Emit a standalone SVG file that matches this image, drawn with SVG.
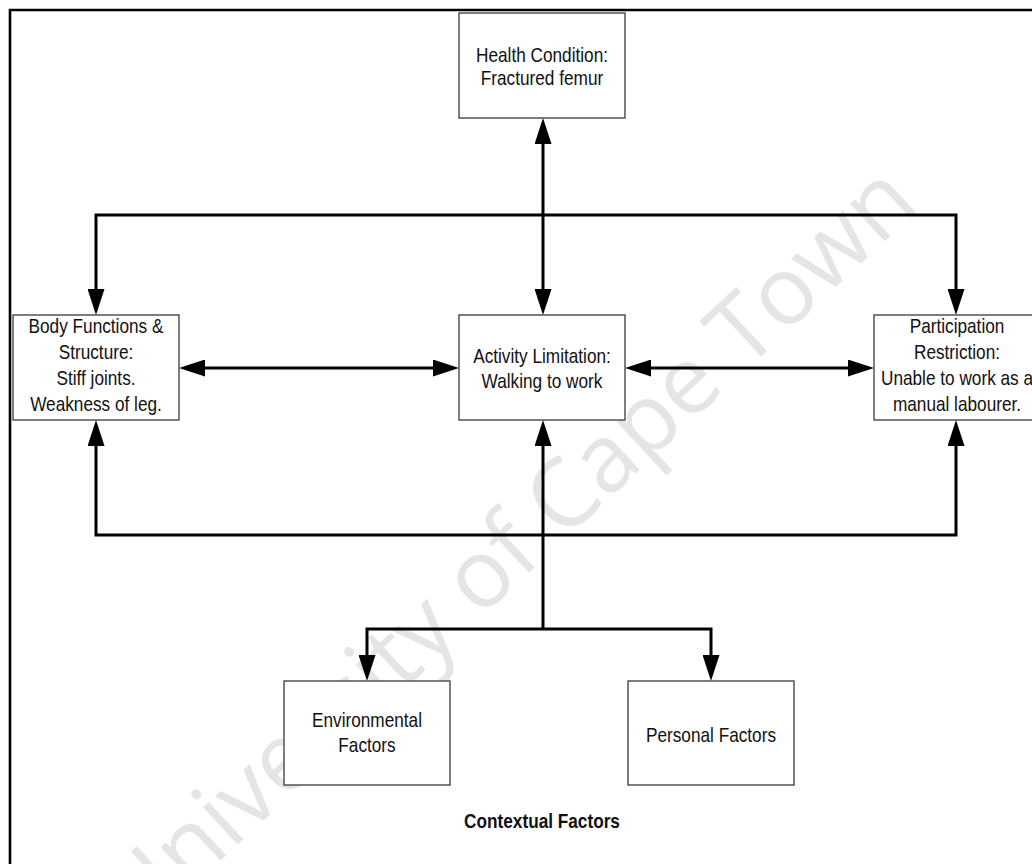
<svg xmlns="http://www.w3.org/2000/svg" width="1032" height="864" viewBox="0 0 1032 864">
<style>
.box{fill:#fff;stroke:#3a3a3a;stroke-width:1.3}
.t{font-family:"Liberation Sans",Arial,sans-serif;font-size:21px;fill:#111;text-anchor:middle}
.b{font-weight:bold}
.c{fill:none;stroke:#000;stroke-width:3;stroke-linejoin:miter}
.wm{font-family:"Open Sans","DejaVu Sans",sans-serif;font-size:95px;fill:#e5e5e5;text-anchor:middle}
</style>
<defs>
<marker id="ah" markerUnits="userSpaceOnUse" viewBox="0 0 26 17" refX="16" refY="8.5" markerWidth="26" markerHeight="17" orient="auto-start-reverse">
<path d="M0,0 L26,8.5 L0,17 Z" fill="#000"/>
</marker>
</defs>
<rect width="1032" height="864" fill="#fff"/>
<text class="wm" transform="translate(530,572) rotate(-43)">University of Cape Town</text>
<path d="M10,864 L10,10 L1032,10" fill="none" stroke="#000" stroke-width="2.6"/>
<g id="connectors">
<path class="c" d="M543,128 L543,305" marker-start="url(#ah)" marker-end="url(#ah)"/>
<path class="c" d="M96,305 L96,215 L956,215 L956,305" marker-start="url(#ah)" marker-end="url(#ah)"/>
<path class="c" d="M189,368 L449,368" marker-start="url(#ah)" marker-end="url(#ah)"/>
<path class="c" d="M635,368 L864,368" marker-start="url(#ah)" marker-end="url(#ah)"/>
<path class="c" d="M96,430 L96,535 L956,535 L956,430" marker-start="url(#ah)" marker-end="url(#ah)"/>
<path class="c" d="M543,430 L543,629" marker-start="url(#ah)"/>
<path class="c" d="M367,671 L367,629 L711,629 L711,671" marker-start="url(#ah)" marker-end="url(#ah)"/>
</g>
<g id="health">
<rect class="box" x="459" y="13" width="166" height="105"/>
<text class="t" transform="translate(542,0) scale(0.82,1)"><tspan x="0" y="62">Health Condition:</tspan><tspan x="0" y="85">Fractured femur</tspan></text>
</g>
<g id="body">
<rect class="box" x="13" y="315" width="166" height="105"/>
<text class="t" transform="translate(96,0) scale(0.82,1)"><tspan x="0" y="333">Body Functions &amp;</tspan><tspan x="0" y="359">Structure:</tspan><tspan x="0" y="385">Stiff joints.</tspan><tspan x="0" y="411">Weakness of leg.</tspan></text>
</g>
<g id="activity">
<rect class="box" x="459" y="315" width="166" height="105"/>
<text class="t" transform="translate(542,0) scale(0.82,1)"><tspan x="0" y="363.5">Activity Limitation:</tspan><tspan x="0" y="388.5">Walking to work</tspan></text>
</g>
<g id="participation">
<rect class="box" x="874" y="315" width="166" height="105"/>
<text class="t" transform="translate(957,0) scale(0.82,1)"><tspan x="0" y="333">Participation</tspan><tspan x="0" y="359">Restriction:</tspan><tspan x="0" y="385">Unable to work as a</tspan><tspan x="0" y="411">manual labourer.</tspan></text>
</g>
<g id="environmental">
<rect class="box" x="284" y="681" width="166" height="104"/>
<text class="t" transform="translate(367,0) scale(0.82,1)"><tspan x="0" y="727">Environmental</tspan><tspan x="0" y="752">Factors</tspan></text>
</g>
<g id="personal">
<rect class="box" x="628" y="681" width="166" height="104"/>
<text class="t" transform="translate(711,0) scale(0.82,1)"><tspan x="0" y="742">Personal Factors</tspan></text>
</g>
<g id="contextual">
<text class="t b" transform="translate(542,0) scale(0.82,1)"><tspan x="0" y="828">Contextual Factors</tspan></text>
</g>
</svg>
